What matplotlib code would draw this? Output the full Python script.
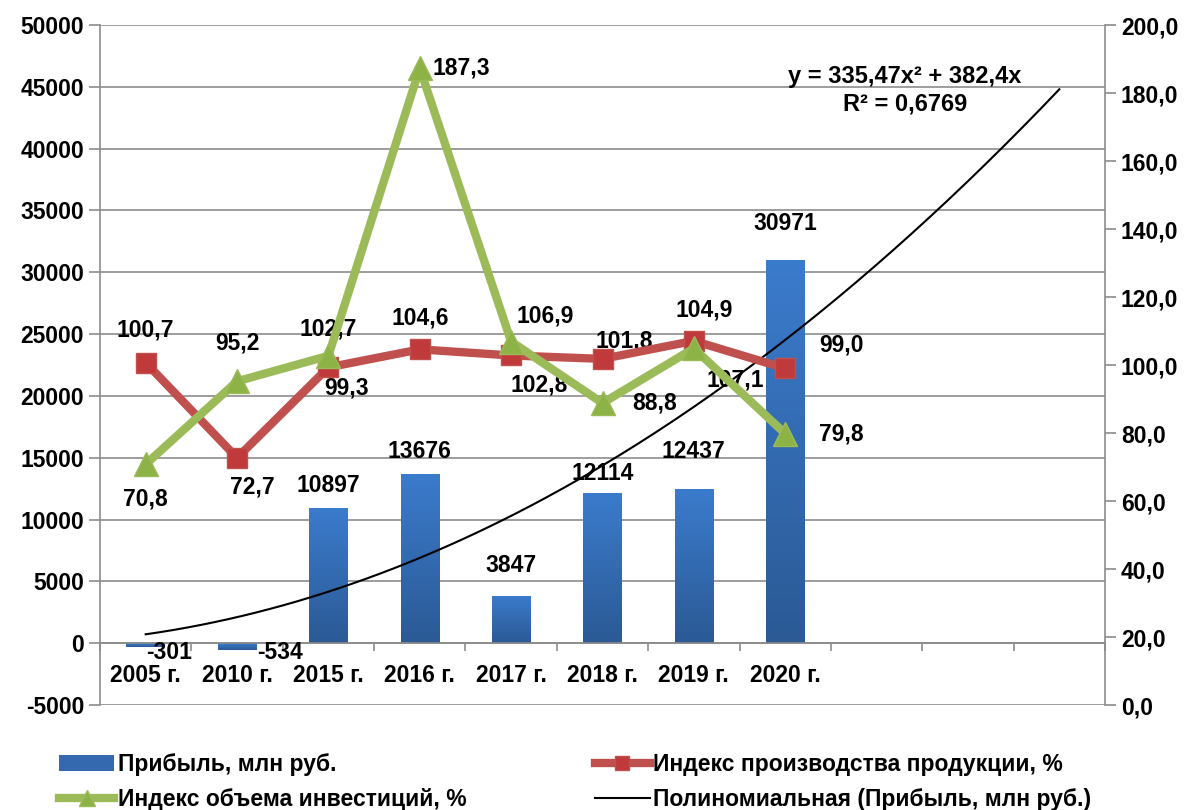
import numpy as np
import matplotlib
matplotlib.use("Agg")
import matplotlib.pyplot as plt
from matplotlib.colors import LinearSegmentedColormap
from matplotlib.lines import Line2D
from matplotlib.patches import Patch

plt.rcParams['font.family'] = ['Liberation Sans', 'DejaVu Sans']
plt.rcParams['font.weight'] = 'bold'
plt.rcParams['axes.unicode_minus'] = False

# data
years = ['2005 г.', '2010 г.', '2015 г.', '2016 г.', '2017 г.', '2018 г.', '2019 г.', '2020 г.']
profit = [-301, -534, 10897, 13676, 3847, 12114, 12437, 30971]
prod_index = [100.7, 72.7, 99.3, 104.6, 102.8, 101.8, 107.1, 99.0]
invest_index = [70.8, 95.2, 102.7, 187.3, 106.9, 88.8, 104.9, 79.8]
trend_coef = [335.47, 382.4, 0.0]   # y = a*x^2 + b*x
n_slots = 11

# label offsets in pixels (dx, dy)
prod_off = [(0, 33), (15, -29), (18, -21), (0, 31), (28, -30), (22, 18), (41, -39), (56, 23)]
inv_off = [(0, -35), (0, 38), (0, 27), (42, 0), (34, 26), (52, 0), (10, 38), (56, 0)]
profit_off = [(23, -9), (43, -9), (0, 11), (0, 11), (0, 19), (0, 8), (0, 26), (0, 25)]

fig = plt.figure(figsize=(11.92, 8.10), dpi=100)
ax = fig.add_axes([100/1192, 1-705/810, 1005/1192, 680/810])
ax2 = ax.twinx()

x = np.arange(1, len(years) + 1)
FS = 16.5
grey = '#8c8c8c'

# bars with gradient
bars = ax.bar(x, profit, width=0.42, color='none', edgecolor='none', zorder=2)
cmap = LinearSegmentedColormap.from_list('b', ['#2b5a95', '#3b7bcc'])
grad = np.linspace(0, 1, 100).reshape(-1, 1)
for r in bars:
    x0, y0, w, h = r.get_x(), r.get_y(), r.get_width(), r.get_height()
    im = ax.imshow(grad, extent=[x0, x0 + w, min(y0, y0 + h), max(y0, y0 + h)],
                   aspect='auto', cmap=cmap, origin='lower', zorder=2)
    im.set_clip_path(r)
for xi, v, (dx, dy) in zip(x, profit, profit_off):
    ax.annotate(str(v), (xi, max(v, 0)), xytext=(dx, dy), textcoords='offset pixels',
                ha='center', va='bottom' if v > 0 else 'center', fontsize=FS, fontweight='bold')

# trendline
xt = np.linspace(1, n_slots, 200)
ax.plot(xt, np.polyval(trend_coef, xt), color='black', lw=1.5, zorder=3)
fig.text(905/1192, 1-76/810, 'y = 335,47x² + 382,4x', ha='center', va='center', fontsize=FS + 0.5, fontweight='bold')
fig.text(905/1192, 1-104/810, 'R² = 0,6769', ha='center', va='center', fontsize=FS + 0.5, fontweight='bold')

ax.set_xlim(0.5, n_slots + 0.5)
ax.set_ylim(-5000, 50000)
ax.set_yticks(np.arange(-5000, 50001, 5000))
ax.yaxis.grid(True, color=grey, lw=1.2)
ax.set_axisbelow(True)
ax.spines['bottom'].set_position(('data', 0))
ax.spines['top'].set_visible(False)
for s in ['left', 'right', 'bottom']:
    ax.spines[s].set_color(grey)
    ax.spines[s].set_linewidth(1.2)
ax.set_xticks(np.arange(0.5, n_slots + 0.6, 1))
ax.set_xticklabels([])
ax.set_xticks(x, minor=True)
ax.set_xticklabels(years, minor=True, fontsize=FS, fontweight='bold')
ax.tick_params(axis='x', which='major', direction='out', length=6, color=grey, width=1.2)
ax.tick_params(axis='x', which='minor', length=0, pad=15)
ax.tick_params(axis='y', length=8, color=grey, width=1.2, labelsize=FS)

# lines on right axis
ax2.plot(x, prod_index, color='#c0504d', lw=6, marker='s', ms=15,
         mfc='#c0393b', mec='#c0504d', zorder=4)
ax2.plot(x, invest_index, color='#9bbb59', lw=6, marker='^', ms=17,
         mfc='#8db346', mec='#9bbb59', zorder=5)
for xi, v, (dx, dy) in zip(x, prod_index, prod_off):
    ax2.annotate(f'{v:.1f}'.replace('.', ','), (xi, v), xytext=(dx, dy), textcoords='offset pixels',
                 ha='center', va='center', fontsize=FS, fontweight='bold')
for xi, v, (dx, dy) in zip(x, invest_index, inv_off):
    ax2.annotate(f'{v:.1f}'.replace('.', ','), (xi, v), xytext=(dx, dy), textcoords='offset pixels',
                 ha='center', va='center', fontsize=FS, fontweight='bold')
ax2.set_ylim(0, 200)
ax2.set_yticks(np.arange(0, 201, 20))
ax2.set_yticklabels([f'{v:.1f}'.replace('.', ',') for v in np.arange(0, 201, 20)])
ax2.tick_params(axis='y', length=8, color=grey, width=1.2, labelsize=FS)
for s in ax2.spines.values():
    s.set_visible(False)

handles = [Patch(facecolor='#3469b0'),
           Line2D([], [], color='#9bbb59', lw=6, marker='^', ms=12, mfc='#8db346', mec='#9bbb59'),
           Line2D([], [], color='#c0504d', lw=6, marker='s', ms=10, mfc='#c0393b', mec='#c0504d'),
           Line2D([], [], color='black', lw=1.5)]
labels = ['Прибыль, млн руб.', 'Индекс объема инвестиций, %',
          'Индекс производства продукции, %', 'Полиномиальная (Прибыль, млн руб.)']
fig.legend(handles, labels, ncol=2, loc='upper left', bbox_to_anchor=(50/1192, 1-744/810),
           frameon=False, prop={'size': FS, 'weight': 'bold'}, handlelength=2.4,
           handletextpad=0.15, columnspacing=5.6, labelspacing=0.5, borderaxespad=0)

fig.savefig('out.png', dpi=100)
